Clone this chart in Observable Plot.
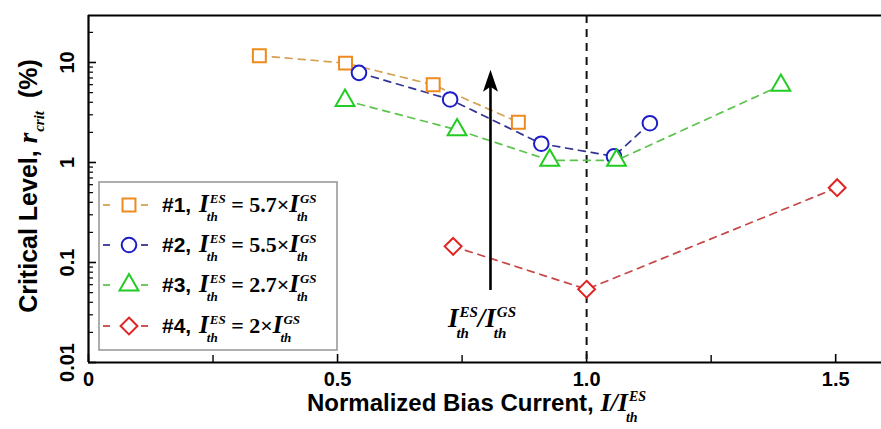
<!DOCTYPE html>
<html>
<head>
<meta charset="utf-8">
<script src="https://cdn.jsdelivr.net/npm/d3@7"></script>
<script src="https://cdn.jsdelivr.net/npm/@observablehq/plot@0.6"></script>
<style>
  html, body { margin: 0; padding: 0; background: #fff; overflow: hidden; }
  svg { display: block; }
</style>
</head>
<body>
<script>
// ---- data ----
const s1x = [0.343, 0.516, 0.692, 0.863];
const s1y = [11.7, 9.85, 5.98, 2.53];
const s2x = [0.543, 0.726, 0.909, 1.055, 1.127];
const s2y = [7.88, 4.27, 1.54, 1.15, 2.47];
const s3x = [0.515, 0.740, 0.926, 1.060, 1.390];
const s3y = [4.17, 2.12, 1.05, 1.05, 5.9];
const s4x = [0.732, 1.0, 1.503];
const s4y = [0.145, 0.054, 0.56];

const seriesIds = ["#1, ", "#2, ", "#3, ", "#4, "];
const ratios = ["5.7", "5.5", "2.7", "2"];

const xTicks = [0, 0.5, 1.0, 1.5];
const xTickLabels = ["0", "0.5", "1.0", "1.5"];
const xMinorTicks = [0.25, 0.75, 1.25];
const yTicks = [0.01, 0.1, 1, 10];
const yTickLabels = ["0.01", "0.1", "1", "10"];
const yMinorTicks = [0.01, 0.1, 1, 10].flatMap(d => [2,3,4,5,6,7,8,9].map(k => d * k)).filter(v => v < 29.5);

const threshold = 1.0;       // vertical dashed line
const arrowX = 0.807;        // arrow position
const arrowY1 = 0.0525, arrowY2 = 6.0;

// ---- styles ----
const markerColors = ["#EE8A1E", "#1C1CC8", "#22CC22", "#E02424"];
const lineColors   = ["#D4A254", "#343494", "#5CC44C", "#C84646"];
const symbols = ["square", "circle", "triangle", "diamond2"];
const radii = [7.3, 7.3, 7.0, 7.6];
const SANS = "Liberation Sans, Arial, Helvetica, sans-serif";
const SERIF = "Liberation Serif, 'Times New Roman', Times, serif";

const toRows = (xs, ys) => xs.map((x, i) => ({x, y: ys[i]}));
const series = [toRows(s1x, s1y), toRows(s2x, s2y), toRows(s3x, s3y), toRows(s4x, s4y)];

const W = 881, H = 429, ML = 88, MR = 0, MT = 15, MB = 67;
const PW = W - ML - MR, PH = H - MT - MB;

const arrowHead = {
  draw(ctx) {
    ctx.moveTo(0, -15); ctx.lineTo(7.5, 7); ctx.lineTo(0, 2); ctx.lineTo(-7.5, 7); ctx.closePath();
  }
};

const marks = [];
// inward ticks
marks.push(Plot.ruleX(xTicks, {x: d => d, insetTop: PH - 8, stroke: "#000", strokeWidth: 1.6}));
marks.push(Plot.ruleX(xMinorTicks, {x: d => d, insetTop: PH - 7, stroke: "#000", strokeWidth: 1.4}));
marks.push(Plot.ruleY(yTicks, {y: d => d, insetRight: PW - 8, stroke: "#000", strokeWidth: 1.6}));
marks.push(Plot.ruleY(yMinorTicks, {y: d => d, insetRight: PW - 5, stroke: "#000", strokeWidth: 1.2}));
// frame lines (left, bottom, top)
marks.push(Plot.ruleX([0], {stroke: "#000", strokeWidth: 2.2}));
marks.push(Plot.ruleY([0.01], {stroke: "#000", strokeWidth: 2.2}));
marks.push(Plot.ruleY([29.5], {stroke: "#000", strokeWidth: 2.2}));
// threshold line
marks.push(Plot.ruleX([threshold], {stroke: "#111", strokeWidth: 2, strokeDasharray: "8,6"}));
// series lines
series.forEach((s, i) => marks.push(Plot.line(s, {x: "x", y: "y", stroke: lineColors[i], strokeWidth: 1.7, strokeDasharray: "7,6"})));
// series markers
series.forEach((s, i) => marks.push(Plot.dot(s, {x: "x", y: "y", symbol: symbols[i], r: radii[i], stroke: markerColors[i], strokeWidth: 2, fill: "white"})));
// arrow
marks.push(Plot.ruleX([arrowX], {y1: arrowY1, y2: arrowY2, stroke: "#000", strokeWidth: 2.6}));
marks.push(Plot.dot([arrowX], {x: d => d, y: arrowY2, symbol: arrowHead, fill: "#000", stroke: "none", r: 5}));
// tick labels
marks.push(Plot.text(xTicks, {x: d => d, text: (d, i) => xTickLabels[i], frameAnchor: "bottom", dy: 17, fontSize: 20, fontWeight: "bold", lineAnchor: "middle", textAnchor: "middle", fill: "#000"}));
marks.push(Plot.text(yTicks, {y: d => d, text: (d, i) => yTickLabels[i], frameAnchor: "left", dx: -21, rotate: -90, fontSize: 20, fontWeight: "bold", lineAnchor: "middle", textAnchor: "middle", fill: "#000"}));

const chart = Plot.plot({
  width: W, height: H,
  marginLeft: ML, marginRight: MR, marginTop: MT, marginBottom: MB,
  x: {domain: [0, 1.592], axis: null},
  y: {type: "log", domain: [0.01, 29.5], axis: null},
  style: {fontFamily: SANS, background: "white", color: "#000"},
  marks
});
document.body.appendChild(chart);

const sx = chart.scale("x"), sy = chart.scale("y");
const svg = d3.select(chart);

function font(sel, f) {
  sel.attr("font-family", f.family).attr("font-size", f.size)
     .attr("font-weight", f.weight || "normal").attr("font-style", f.style || "normal")
     .attr("text-anchor", "start").attr("xml:space", "preserve")
     .style("white-space", "pre").style("text-anchor", "start")
     .attr("fill", "#000");
}
function rich(g, x, y, parts) {
  let cx = x;
  for (const p of parts) {
    const t = g.append("text").call(font, p.f).attr("x", cx).attr("y", y + (p.dy || 0)).text(p.t);
    const w = t.node().getComputedTextLength();
    let adv = w;
    if (p.sup || p.sub) {
      let ws = 0;
      if (p.sup) {
        const s = g.append("text").call(font, p.sf).attr("x", cx + w + (p.supDx || 0)).attr("y", y - p.supUp).text(p.sup);
        ws = Math.max(ws, (p.supDx || 0) + s.node().getComputedTextLength());
      }
      if (p.sub) {
        const s = g.append("text").call(font, p.sf).attr("x", cx + w + (p.subDx || 0)).attr("y", y + p.subDown).text(p.sub);
        ws = Math.max(ws, (p.subDx || 0) + s.node().getComputedTextLength());
      }
      adv += ws;
    }
    cx += adv + (p.after || 0);
  }
  return cx - x;
}
const f = (family, size, weight, style) => ({family, size, weight, style});

// ---- legend ----
const lg = svg.append("g");
lg.append("rect").attr("x", 99).attr("y", 182).attr("width", 238).attr("height", 168)
  .attr("fill", "white").attr("stroke", "#9a9a9a").attr("stroke-width", 1.6);
const rowY = [205, 245, 285, 326];
const symTypes = {square: d3.symbolSquare, circle: d3.symbolCircle, triangle: d3.symbolTriangle, diamond2: d3.symbolDiamond2};
rowY.forEach((ry, i) => {
  lg.append("line").attr("x1", 103).attr("x2", 110).attr("y1", ry).attr("y2", ry)
    .attr("stroke", lineColors[i]).attr("stroke-width", 1.8);
  lg.append("line").attr("x1", 141).attr("x2", 148).attr("y1", ry).attr("y2", ry)
    .attr("stroke", lineColors[i]).attr("stroke-width", 1.8);
  lg.append("path").attr("transform", `translate(129,${ry})`)
    .attr("d", d3.symbol(symTypes[symbols[i]], Math.PI * radii[i] * radii[i])())
    .attr("fill", "white").attr("stroke", markerColors[i]).attr("stroke-width", 2);
  rich(lg, 162, ry + 7, [
    {t: seriesIds[i], f: f(SANS, 21, "bold"), after: 2},
    {t: "I", f: f(SERIF, 25, "bold", "italic"), sup: "ES", sub: "th", sf: f(SERIF, 13, "bold", "italic"), supUp: 9, subDown: 9, supDx: 1, subDx: -2},
    {t: " = " + ratios[i] + "×", f: f(SERIF, 22, "bold")},
    {t: "I", f: f(SERIF, 25, "bold", "italic"), sup: "GS", sub: "th", sf: f(SERIF, 13, "bold", "italic"), supUp: 9, subDown: 9, supDx: 1, subDx: -2}
  ]);
});

// ---- annotation under arrow ----
const ag = svg.append("g");
const aw = rich(ag, 0, 0, [
  {t: "I", f: f(SERIF, 27, "bold", "italic"), sup: "ES", sub: "th", sf: f(SERIF, 15, "bold", "italic"), supUp: 10, subDown: 11, supDx: 1, subDx: -2},
  {t: "/", f: f(SERIF, 27, "bold", "italic")},
  {t: "I", f: f(SERIF, 27, "bold", "italic"), sup: "GS", sub: "th", sf: f(SERIF, 15, "bold", "italic"), supUp: 10, subDown: 11, supDx: 1, subDx: -2}
]);
ag.attr("transform", `translate(${sx.apply(arrowX) - 8 - aw / 2},327)`);

// ---- x axis title ----
const xg = svg.append("g");
const xw = rich(xg, 0, 0, [
  {t: "Normalized Bias Current, ", f: f(SANS, 24, "bold")},
  {t: "I/I", f: f(SERIF, 26, "bold", "italic"), sup: "ES", sub: "th", sf: f(SERIF, 14, "bold", "italic"), supUp: 10, subDown: 11, supDx: 1, subDx: -2}
]);
xg.attr("transform", `translate(${(ML + W) / 2 - xw / 2 - 8},411)`);

// ---- y axis title ----
const yg = svg.append("g");
const yw = rich(yg, 0, 0, [
  {t: "Critical Level, ", f: f(SANS, 25, "bold")},
  {t: "r", f: f(SERIF, 27, "bold", "italic"), sub: "crit", sf: f(SERIF, 15, "bold", "italic"), subDown: 7, subDx: 1, after: 6},
  {t: " (%)", f: f(SANS, 25, "bold")}
]);
yg.attr("transform", `translate(37,${186 + yw / 2}) rotate(-90)`);
</script>
</body>
</html>
